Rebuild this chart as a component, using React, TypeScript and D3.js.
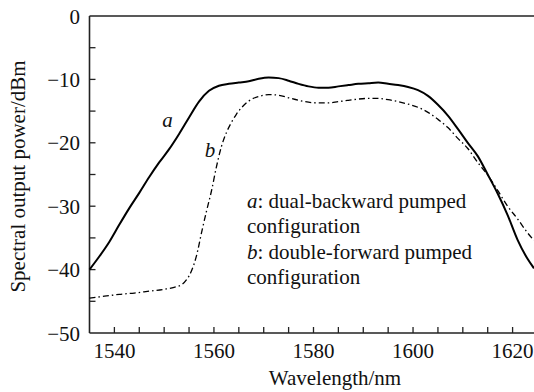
import React from "react";
import * as d3 from "d3";

const xTickValues = [1540, 1560, 1580, 1600, 1620];
const yTickValues = [0, -10, -20, -30, -40, -50];

const curveAx = [1535, 1537, 1539, 1541, 1543, 1545, 1547, 1549, 1551, 1553, 1555, 1557, 1559, 1561, 1563, 1565, 1567, 1569, 1571, 1573, 1575, 1577, 1579, 1581, 1583, 1585, 1587, 1589, 1591, 1593, 1595, 1597, 1599, 1601, 1603, 1605, 1607, 1609, 1611, 1613, 1615, 1617, 1619, 1621, 1623, 1624.3];
const curveAy = [-40, -37.9, -35.6, -32.9, -30.3, -27.9, -25.4, -23.1, -21.0, -18.6, -16.0, -13.5, -11.8, -11.0, -10.7, -10.5, -10.3, -9.9, -9.7, -9.8, -10.2, -10.7, -11.1, -11.3, -11.3, -11.1, -10.9, -10.7, -10.6, -10.5, -10.7, -10.9, -11.2, -11.7, -12.6, -14.0, -15.7, -17.8, -20.0, -22.1, -25.0, -28.0, -31.4, -35.3, -38.3, -39.8];

const curveBx = [1535, 1538, 1541, 1544, 1547, 1550, 1552, 1553.5, 1554.5, 1555.5, 1556.5, 1557.5, 1558.5, 1559.5, 1560.5, 1561.5, 1562.5, 1563.5, 1564.5, 1565.5, 1567, 1569, 1571, 1573, 1575, 1577, 1579, 1581, 1583, 1585, 1587, 1589, 1591, 1593, 1595, 1597, 1599, 1601, 1603, 1605, 1607, 1609, 1611, 1613, 1615, 1617, 1619, 1621, 1623, 1624.3];
const curveBy = [-44.5, -44.2, -43.9, -43.7, -43.4, -43.1, -42.8, -42.4, -41.6, -40.2, -37.8, -34.2, -30.8, -27.6, -23.8, -20.6, -18.4, -16.8, -15.5, -14.5, -13.4, -12.7, -12.4, -12.5, -12.9, -13.3, -13.6, -13.7, -13.7, -13.5, -13.3, -13.1, -13.0, -13.0, -13.2, -13.5, -13.9, -14.4, -15.2, -16.3, -17.6, -19.3, -20.9, -23.1, -25.1, -27.5, -30.0, -32.0, -34.2, -35.4];

const legendLines = [
  { tag: "a", text: ": dual-backward pumped" },
  { tag: "", text: "configuration" },
  { tag: "b", text: ": double-forward pumped" },
  { tag: "", text: "configuration" },
];

const FONT = 'Tinos, "Liberation Serif", "Noto Serif", "Nimbus Roman", "Nimbus Roman No9 L", FreeSerif, Times, "DejaVu Serif", serif';

export default function App() {
  const W = 534, H = 392;
  const left = 89.5, right = 534, top = 16, bottom = 333;
  const x = d3.scaleLinear().domain([1535, 1624.3]).range([left, right]);
  const y = d3.scaleLinear().domain([-50, 0]).range([bottom, top]);
  const fs = 21;
  const ts: React.CSSProperties = { fontFamily: FONT, fontSize: fs };

  const line = d3
    .line<[number, number]>()
    .x((d) => x(d[0]))
    .y((d) => y(d[1]))
    .curve(d3.curveMonotoneX);

  const dataA: [number, number][] = curveAx.map((v, i) => [v, curveAy[i]]);
  const dataB: [number, number][] = curveBx.map((v, i) => [v, curveBy[i]]);

  const xMinor = d3.range(1540, 1624, 5);
  const yMinor = d3.range(-45, 0, 5);
  const tickLen = 6;

  return (
    <svg width={W} height={H} style={{ position: "absolute", left: 0, top: 0, background: "#fff" }}>
      <rect x={0} y={0} width={W} height={H} fill="#fff" />
      <line x1={left} x2={right} y1={top} y2={top} stroke="#222" strokeWidth={1.6} />
      <line x1={left} x2={right} y1={bottom} y2={bottom} stroke="#222" strokeWidth={1.6} />
      <line x1={left} x2={left} y1={top} y2={bottom} stroke="#222" strokeWidth={1.6} />
      {xMinor.map((v) => (
        <line key={"xt" + v} x1={x(v)} x2={x(v)} y1={bottom} y2={bottom - tickLen} stroke="#222" strokeWidth={1.3} />
      ))}
      {yMinor.map((v) => (
        <line key={"yt" + v} x1={left} x2={left + tickLen} y1={y(v)} y2={y(v)} stroke="#222" strokeWidth={1.3} />
      ))}
      {xTickValues.map((v) => (
        <text key={"xl" + v} x={x(v)} y={358} style={ts} textAnchor="middle" fill="#111">
          {v}
        </text>
      ))}
      {yTickValues.map((v) => (
        <text key={"yl" + v} x={80} y={y(v) + 7.5} style={ts} textAnchor="end" fill="#111">
          {v < 0 ? "\u2212" + Math.abs(v) : String(v)}
        </text>
      ))}
      <text x={335} y={385} style={ts} textAnchor="middle" fill="#111">
        Wavelength/nm
      </text>
      <text transform="translate(25,176.5) rotate(-90)" style={ts} textAnchor="middle" fill="#111">
        Spectral output power/dBm
      </text>
      <path d={line(dataA) || ""} fill="none" stroke="#000" strokeWidth={2} />
      <path d={line(dataB) || ""} fill="none" stroke="#000" strokeWidth={1.3} strokeDasharray="6 3 1.5 3" />
      <text x={167.5} y={127} style={{ ...ts, fontStyle: "italic" }} textAnchor="middle" fill="#111">a</text>
      <text x={210} y={157} style={{ ...ts, fontStyle: "italic" }} textAnchor="middle" fill="#111">b</text>
      {legendLines.map((l, i) => (
        <text key={"lg" + i} x={247} y={208 + i * 25.3} style={ts} fill="#111">
          {l.tag ? <tspan style={{ fontStyle: "italic" }}>{l.tag}</tspan> : null}
          {l.text}
        </text>
      ))}
    </svg>
  );
}
